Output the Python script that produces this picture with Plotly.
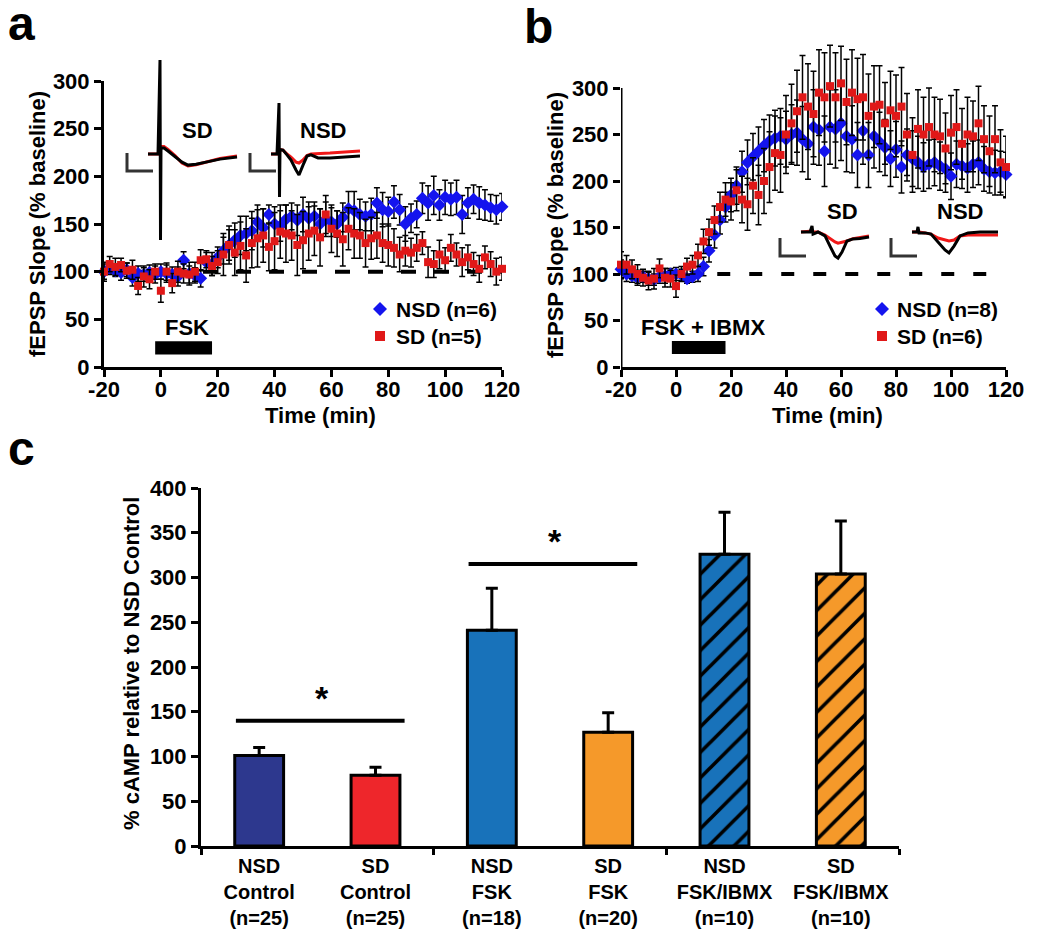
import plotly.graph_objects as go

FONT = "Liberation Sans, Arial, Helvetica, sans-serif"
OFF = 8                      # default body margin of the html page
W, H = 1050 - 2 * OFF, 942 - 2 * OFF
BLUE = "#1414EE"
RED = "#E01818"

# ---- panels a & b : fEPSP slope time courses (2-min bins) ----
TIME_MIN = [-20, -18, -16, -14, -12, -10, -8, -6, -4, -2, 0,
            2, 4, 6, 8, 10, 12, 14, 16, 18, 20,
            22, 24, 26, 28, 30, 32, 34, 36, 38, 40,
            42, 44, 46, 48, 50, 52, 54, 56, 58, 60,
            62, 64, 66, 68, 70, 72, 74, 76, 78, 80,
            82, 84, 86, 88, 90, 92, 94, 96, 98, 100,
            102, 104, 106, 108, 110, 112, 114, 116, 118, 120]
TIME_TICKS = [-20, 0, 20, 40, 60, 80, 100, 120]

NSD_FSK = [100, 104, 101, 99, 102, 94, 98, 97, 99, 97, 100,
           98, 97, 95, 112, 98, 96, 93, 110, 108, 115,
           122, 128, 133, 138, 140, 143, 152, 146, 160, 150,
           148, 155, 158, 154, 160, 156, 158, 150, 155, 152,
           150, 157, 166, 164, 160, 158, 160, 172, 165, 163,
           173, 165, 150, 156, 160, 177, 172, 180, 170, 178,
           176, 178, 160, 172, 176, 172, 170, 167, 165, 168]
NSD_FSK_SEM = [8, 7, 6, 8, 7, 9, 8, 7, 8, 9, 8,
               9, 8, 10, 9, 12, 8, 9, 10, 12, 11,
               14, 16, 18, 20, 18, 20, 18, 20, 10, 18,
               16, 15, 14, 16, 18, 17, 15, 16, 18, 15,
               14, 15, 18, 20, 16, 15, 17, 16, 18, 15,
               17, 16, 18, 15, 14, 16, 18, 20, 16, 18,
               17, 18, 20, 16, 15, 17, 16, 14, 15, 14]

SD_FSK = [100, 108, 105, 107, 101, 102, 85, 95, 92, 100, 80,
          100, 88, 100, 98, 97, 100, 112, 113, 106, 110,
          118, 128, 120, 127, 117, 130, 135, 138, 126, 132,
          142, 140, 138, 128, 133, 140, 143, 136, 160, 145,
          140, 134, 145, 140, 138, 130, 135, 138, 130, 128,
          125, 118, 122, 120, 125, 130, 110, 108, 118, 112,
          125, 118, 110, 115, 108, 103, 115, 108, 100, 103]
SD_FSK_SEM = [10, 8, 9, 7, 8, 10, 9, 11, 10, 8, 12,
              9, 10, 11, 10, 9, 10, 11, 9, 10, 12,
              22, 20, 24, 25, 28, 26, 30, 28, 25, 30,
              28, 30, 26, 32, 30, 28, 26, 30, 20, 25,
              24, 28, 22, 26, 24, 25, 22, 24, 20, 22,
              20, 18, 16, 15, 14, 12, 16, 14, 15, 13,
              14, 12, 15, 13, 12, 14, 12, 13, 14, 12]

NSD_IBMX = [105, 100, 98, 96, 97, 95, 94, 97, 98, 100, 100,
            99, 95, 97, 100, 108, 125, 142, 158, 172, 185,
            195, 210, 220, 226, 232, 238, 243, 246, 248, 245,
            250, 252, 245, 240, 258, 255, 232, 258, 256, 262,
            248, 245, 228, 254, 228, 248, 242, 236, 224, 234,
            215, 228, 224, 220, 215, 218, 220, 216, 213, 205,
            218, 216, 214, 218, 220, 213, 210, 209, 210, 207]
NSD_IBMX_SEM = [10, 8, 7, 8, 6, 7, 6, 7, 8, 6, 7,
                6, 5, 6, 8, 10, 12, 14, 15, 16, 18,
                20, 22, 24, 25, 26, 28, 28, 30, 30, 30,
                32, 35, 35, 38, 40, 38, 38, 40, 42, 40,
                38, 36, 35, 36, 35, 34, 32, 30, 30, 30,
                28, 28, 30, 28, 26, 26, 25, 26, 25, 25,
                25, 24, 26, 25, 24, 24, 23, 24, 22, 24]

SD_IBMX = [110, 110, 105, 100, 96, 93, 95, 106, 96, 95, 87,
           100, 108, 110, 120, 135, 145, 158, 172, 180, 178,
           190, 180, 175, 195, 185, 200, 215, 230, 228, 250,
           262, 275, 290, 280, 272, 295, 290, 302, 290, 305,
           285, 295, 288, 290, 270, 280, 282, 262, 276, 270,
           280, 250, 228, 256, 250, 258, 250, 248, 235, 252,
           258, 240, 250, 248, 262, 245, 232, 245, 220, 215]
SD_IBMX_SEM = [14, 10, 10, 10, 9, 10, 11, 10, 10, 9, 12,
               8, 9, 10, 12, 13, 14, 15, 16, 18, 20,
               22, 25, 28, 30, 32, 35, 38, 40, 40, 42,
               42, 44, 45, 46, 46, 46, 48, 44, 48, 40,
               46, 46, 44, 46, 45, 44, 42, 44, 42, 44,
               42, 44, 40, 42, 40, 42, 40, 40, 38, 40,
               40, 38, 40, 38, 40, 36, 38, 36, 35, 33]

FSK_PERIOD = [-2, 18]
FSK_IBMX_PERIOD = [-1.5, 18]

# ---- example waveforms (ms, mV); red = baseline, black = after drug ----
WAVE_SD_FSK_T = [5.6, 7.6, 8.0, 8.1, 8.2, 8.8, 9.6, 11.0, 12.4, 13.6, 15.2, 17.2, 20.0, 23.4]
WAVE_SD_FSK_POST = [0, 0, 3.13, -2.87, 0.2, 0.2, 0.1, -0.07, -0.27, -0.37, -0.34, -0.27, -0.17, -0.1]
WAVE_SD_FSK_PRE = [0, 0, 0.25, 0.25, 0.25, 0.25, 0.15, -0.05, -0.3, -0.4, -0.36, -0.28, -0.15, -0.07]
WAVE_NSD_FSK_T = [30.2, 31.4, 31.8, 31.9, 32.0, 32.6, 33.4, 34.2, 35.2, 35.8, 36.6, 37.4, 38.2, 39.6, 42.0, 45.0, 48.0]
WAVE_NSD_FSK_POST = [0, 0, 1.7, -1.43, 0.15, 0.13, -0.03, -0.2, -0.53, -0.7, -0.37, -0.07, -0.03, -0.13, -0.13, -0.1, -0.07]
WAVE_NSD_FSK_PRE = [0, 0, 0.15, 0.15, 0.15, 0.13, 0.0, -0.1, -0.27, -0.3, -0.2, -0.05, 0.0, 0.02, 0.03, 0.07, 0.1]

WAVE_SD_IBMX_T = [5.2, 7.0, 7.4, 7.6, 8.6, 10.0, 11.0, 12.0, 12.6, 13.4, 14.4, 15.6, 17.0, 18.8]
WAVE_SD_IBMX_POST = [0, 0, 0.2, -0.07, 0, -0.13, -0.47, -0.8, -0.87, -0.67, -0.3, -0.23, -0.22, -0.17]
WAVE_SD_IBMX_PRE = [0, 0.03, 0.03, 0.0, 0, -0.1, -0.23, -0.33, -0.37, -0.34, -0.3, -0.22, -0.18, -0.13]
WAVE_NSD_IBMX_T = [27.4, 28.4, 28.6, 28.8, 30.0, 31.2, 32.6, 34.0, 34.8, 35.8, 37.0, 38.6, 41.0, 44.6]
WAVE_NSD_IBMX_POST = [0, 0, 0.17, -0.03, -0.03, -0.07, -0.33, -0.6, -0.7, -0.47, -0.13, -0.03, 0, 0]
WAVE_NSD_IBMX_PRE = [0, 0, 0.05, 0.0, -0.03, -0.07, -0.2, -0.28, -0.3, -0.27, -0.13, -0.1, -0.1, -0.1]
SCALE_MS = 5.2
SCALE_MV = 0.6

# ---- panel c : cAMP ----
CAMP_GROUPS = ["NSD<br>Control<br>(n=25)", "SD<br>Control<br>(n=25)", "NSD<br>FSK<br>(n=18)",
               "SD<br>FSK<br>(n=20)", "NSD<br>FSK/IBMX<br>(n=10)", "SD<br>FSK/IBMX<br>(n=10)"]
CAMP_MEAN = [101, 79, 241, 127, 326, 304]
CAMP_SEM = [9, 9, 47, 22, 47, 59]
CAMP_COLORS = ["#2D388E", "#EE262B", "#1872BA", "#F5992A", "#1872BA", "#F5992A"]
CAMP_HATCH = ["", "", "", "", "/", "/"]


def px(x):
    return (x - OFF) / W


def py(y):
    return (H - (y - OFF)) / H


def bold(size):
    return dict(family=FONT, size=size, color="black", weight="bold")


fig = go.Figure()


def time_course(y, err, name, symbol, size, color, ax):
    fig.add_trace(go.Scatter(x=TIME_MIN, y=y, mode="markers", name=name,
                             marker=dict(symbol=symbol, size=size, color=color),
                             error_y=dict(type="data", array=err, color="black", thickness=1.5, width=3),
                             xaxis="x" + ax, yaxis="y" + ax, showlegend=False, cliponaxis=False))


time_course(NSD_FSK, NSD_FSK_SEM, "NSD (n=6)", "diamond", 10, BLUE, "")
time_course(SD_FSK, SD_FSK_SEM, "SD (n=5)", "square", 8, RED, "")
time_course(NSD_IBMX, NSD_IBMX_SEM, "NSD (n=8)", "diamond", 10, BLUE, "2")
time_course(SD_IBMX, SD_IBMX_SEM, "SD (n=6)", "square", 8, RED, "2")

# insets
for t, pre, post, ax in [(WAVE_SD_FSK_T, WAVE_SD_FSK_PRE, WAVE_SD_FSK_POST, "4"),
                         (WAVE_NSD_FSK_T, WAVE_NSD_FSK_PRE, WAVE_NSD_FSK_POST, "4"),
                         (WAVE_SD_IBMX_T, WAVE_SD_IBMX_PRE, WAVE_SD_IBMX_POST, "5"),
                         (WAVE_NSD_IBMX_T, WAVE_NSD_IBMX_PRE, WAVE_NSD_IBMX_POST, "5")]:
    fig.add_trace(go.Scatter(x=t, y=pre, mode="lines", line=dict(color="#F01818", width=3),
                             xaxis="x" + ax, yaxis="y" + ax, showlegend=False, hoverinfo="skip"))
    fig.add_trace(go.Scatter(x=t, y=post, mode="lines", line=dict(color="black", width=3),
                             xaxis="x" + ax, yaxis="y" + ax, showlegend=False, hoverinfo="skip"))
    # calibration bar
    x0 = t[0] - 4.2
    y0 = -SCALE_MV + 0.03 if ax == "4" else -0.8
    fig.add_trace(go.Scatter(x=[x0, x0, x0 + SCALE_MS], y=[y0 + SCALE_MV, y0, y0], mode="lines",
                             line=dict(color="#333333", width=3),
                             xaxis="x" + ax, yaxis="y" + ax, showlegend=False, hoverinfo="skip"))

# panel c, one trace per group so each keeps its own fill / hatch
for i, (mean, sem, color, hatch) in enumerate(zip(CAMP_MEAN, CAMP_SEM, CAMP_COLORS, CAMP_HATCH)):
    fig.add_trace(go.Bar(x=[i], y=[mean], width=0.42,
                         marker=dict(color=color, line=dict(color="black", width=3),
                                     pattern=dict(shape=hatch, fillmode="overlay", fgcolor="black",
                                                  fgopacity=1, size=18, solidity=0.2)),
                         error_y=dict(type="data", symmetric=False, array=[sem], arrayminus=[0],
                                      color="black", thickness=3, width=6),
                         xaxis="x3", yaxis="y3", showlegend=False))

axis_common = dict(showline=True, linewidth=3, linecolor="black", ticks="outside", ticklen=7,
                   tickwidth=3, tickcolor="black", tickfont=bold(22), showgrid=False,
                   zeroline=False, automargin=False)
time_axis = dict(range=[-20, 120], tickvals=TIME_TICKS, ticktext=[str(v) for v in TIME_TICKS],
                 ticklabelstandoff=-6)

fig.update_layout(
    width=W, height=H, margin=dict(l=0, r=0, t=0, b=0), barmode="overlay",
    paper_bgcolor="white", plot_bgcolor="rgba(0,0,0,0)", showlegend=False,
    xaxis=dict(domain=[px(104), px(502)], anchor="y", **time_axis, **axis_common),
    yaxis=dict(domain=[py(367), py(81)], range=[0, 300], tickvals=[0, 50, 100, 150, 200, 250, 300],
               anchor="x", **axis_common),
    xaxis2=dict(domain=[px(621), px(1006)], anchor="y2", **time_axis, **axis_common),
    yaxis2=dict(domain=[py(367), py(367 - 352 * 0.93)], range=[0, 352],
                tickvals=[0, 50, 100, 150, 200, 250, 300], anchor="x2",
                **{**axis_common, "showline": False}),
    xaxis3=dict(domain=[px(201), px(899)], range=[-0.5, 5.5], tickvals=list(range(6)), ticktext=CAMP_GROUPS,
                anchor="y3", **{**axis_common, "ticks": "", "ticklen": 0, "tickfont": bold(20)},
                minor=dict(tickmode="array", tickvals=[-0.5, 1.5, 3.5, 5.5], ticks="outside",
                           ticklen=6, tickwidth=3, tickcolor="black")),
    yaxis3=dict(domain=[py(846), py(488)], range=[0, 400], tickvals=[0, 50, 100, 150, 200, 250, 300, 350, 400],
                anchor="x3", **axis_common),
    xaxis4=dict(domain=[px(120), px(370)], range=[0, 50], visible=False, anchor="y4"),
    yaxis4=dict(domain=[py(245), py(55)], range=[-3.033, 3.3], visible=False, anchor="x4"),
    xaxis5=dict(domain=[px(775), px(1005)], range=[0, 46], visible=False, anchor="y5"),
    yaxis5=dict(domain=[py(265), py(195)], range=[-1.1, 1.233], visible=False, anchor="x5"),
)

shapes = [
    # baseline (100 %) dashed references
    dict(type="line", xref="x", yref="y", x0=-20, x1=120, y0=100, y1=100, layer="below",
         line=dict(color="black", width=4, dash="15px,18px")),
    dict(type="line", xref="x2", yref="y2", x0=15, x1=113, y0=100, y1=100, layer="below",
         line=dict(color="black", width=4, dash="13px,19px")),
    # drug application bars
    dict(type="rect", xref="x", yref="y", x0=FSK_PERIOD[0], x1=FSK_PERIOD[1], y0=13, y1=27,
         fillcolor="black", line=dict(width=0)),
    dict(type="rect", xref="x2", yref="y2", x0=FSK_IBMX_PERIOD[0], x1=FSK_IBMX_PERIOD[1], y0=14, y1=28,
         fillcolor="black", line=dict(width=0)),
    # y axis line of panel b only up to 300
    dict(type="line", xref="x2", yref="y2", x0=-20, x1=-20, y0=0, y1=300, line=dict(color="black", width=3)),
    # significance bars
    dict(type="line", xref="x3", yref="y3", x0=-0.2, x1=1.25, y0=140, y1=140, line=dict(color="black", width=4)),
    dict(type="line", xref="x3", yref="y3", x0=1.8, x1=3.25, y0=315, y1=315, line=dict(color="black", width=4)),
]


# legend keys (diamond = NSD, square = SD)
def diamond(cx, cy, r):
    return dict(type="path", xref="paper", yref="paper", fillcolor=BLUE, line=dict(width=0),
                path=f"M {px(cx)},{py(cy - r)} L {px(cx + r)},{py(cy)} L {px(cx)},{py(cy + r)} "
                     f"L {px(cx - r)},{py(cy)} Z")


def square(cx, cy, r):
    return dict(type="rect", xref="paper", yref="paper", fillcolor=RED, line=dict(width=0),
                x0=px(cx - r), x1=px(cx + r), y0=py(cy + r), y1=py(cy - r))


shapes += [diamond(380, 309, 7), square(380, 336, 5), diamond(882, 309, 7), square(882, 336, 5)]
fig.update_layout(shapes=shapes)

ann = [
    ("a", 21, 24, 48, 0, "center"), ("b", 538, 26, 48, 0, "center"), ("c", 21, 448, 48, 0, "center"),
    ("fEPSP Slope (% baseline)", 37, 224, 22, -90, "center"),
    ("fEPSP Slope (% baseline)", 555, 225, 22, -90, "center"),
    ("% cAMP relative to NSD Control", 131, 664, 22, -90, "center"),
    ("Time (min)", 320, 415, 22, 0, "center"), ("Time (min)", 827, 415, 22, 0, "center"),
    ("SD", 197, 130, 22, 0, "center"), ("NSD", 323, 130, 22, 0, "center"),
    ("SD", 842, 212, 22, 0, "center"), ("NSD", 960, 212, 22, 0, "center"),
    ("FSK", 187, 327, 22, 0, "center"), ("FSK + IBMX", 703, 327, 22, 0, "center"),
    ("NSD (n=6)", 395, 309, 21, 0, "left"), ("SD (n=5)", 395, 336, 21, 0, "left"),
    ("NSD (n=8)", 896, 309, 21, 0, "left"), ("SD (n=6)", 896, 336, 21, 0, "left"),
]
for text, x, y, size, ang, anchor in ann:
    fig.add_annotation(text=text, x=px(x), y=py(y), xref="paper", yref="paper", showarrow=False,
                       xanchor=anchor, yanchor="middle", textangle=ang, font=bold(size), borderpad=0)
for x, y in [(0.54, 165), (2.54, 341)]:
    fig.add_annotation(text="*", x=x, y=y, xref="x3", yref="y3", showarrow=False,
                       xanchor="center", yanchor="middle", font=bold(34))

fig.write_html("out.html")
